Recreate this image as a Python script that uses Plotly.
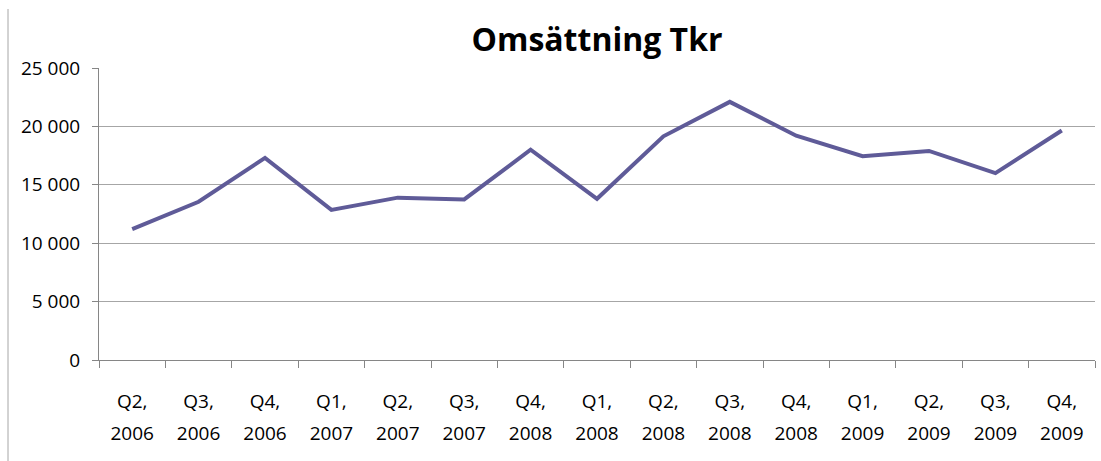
import plotly.graph_objects as go

quarters = ["Q2,", "Q3,", "Q4,", "Q1,", "Q2,", "Q3,", "Q4,", "Q1,", "Q2,", "Q3,", "Q4,", "Q1,", "Q2,", "Q3,", "Q4,"]
years = ["2006", "2006", "2006", "2007", "2007", "2007", "2008", "2008", "2008", "2008", "2008", "2009", "2009", "2009", "2009"]
omsattning = [11200, 13550, 17300, 12850, 13900, 13750, 18000, 13800, 19150, 22100, 19200, 17450, 17900, 16000, 19650]

categories = [f"{q} {y} #{i}" for i, (q, y) in enumerate(zip(quarters, years))]

W, H = 1101, 461
ml, mr, mt, mb = 99, 6, 68, 101
pw, ph = W - ml - mr, H - mt - mb

fig = go.Figure()
fig.add_trace(go.Scatter(
    x=categories, y=omsattning, mode="lines",
    line=dict(color="#5F5B98", width=4),
    hoverinfo="y",
))
# invisible companion trace so the second (year) label axis is populated
fig.add_trace(go.Scatter(
    x=categories, y=omsattning, mode="lines", xaxis="x2",
    line=dict(color="rgba(0,0,0,0)", width=0),
    hoverinfo="skip",
))

font_family = "Open Sans, Lato, sans-serif"
xrange = [-0.5, len(categories) - 0.5]

fig.update_layout(
    width=W, height=H,
    margin=dict(l=ml, r=mr, t=mt, b=mb, autoexpand=False),
    paper_bgcolor="white", plot_bgcolor="white",
    separators=", ",
    showlegend=False,
    title=dict(
        text="<b>Omsättning Tkr</b>",
        x=(ml + pw / 2) / W, xanchor="center",
        y=1 - 40 / H, yanchor="middle",
        font=dict(family=font_family, size=32, color="black"),
    ),
    font=dict(family=font_family, size=19, color="black"),
    xaxis=dict(
        type="category", range=xrange, automargin=False,
        tickmode="array", tickvals=categories, ticktext=quarters,
        tickson="boundaries",
        ticks="outside", ticklen=7, tickcolor="#868686",
        showline=True, linecolor="#868686", linewidth=1,
        showgrid=False,
        tickfont=dict(size=19, color="black"),
        ticklabelstandoff=24,
    ),
    xaxis2=dict(
        type="category", range=xrange, automargin=False,
        overlaying="x", anchor="y", side="bottom",
        tickmode="array", tickvals=categories, ticktext=years,
        ticks="", showline=False, showgrid=False,
        tickfont=dict(size=19, color="black"),
        ticklabelstandoff=60,
    ),
    yaxis=dict(
        range=[0, 25000], dtick=5000, tickformat=",d", automargin=False,
        ticks="outside", ticklen=6, tickcolor="#868686",
        showline=True, linecolor="#868686", linewidth=1,
        showgrid=True, gridcolor="#A6A6A6", gridwidth=1,
        zeroline=False,
        tickfont=dict(size=19, color="black"),
        ticklabelstandoff=8,
    ),
)

# chart frame fragment on the left
fig.add_shape(
    type="line", xref="paper", yref="paper",
    x0=(8 - ml) / pw, x1=(8 - ml) / pw,
    y0=(H - mb - 9) / ph, y1=(H - mb - H) / ph,
    line=dict(color="#A6A6A6", width=1),
)

fig.write_html(
    "out.html",
    config={"displayModeBar": False},
    post_script="document.body.style.margin='0';document.body.style.overflow='hidden';",
)
